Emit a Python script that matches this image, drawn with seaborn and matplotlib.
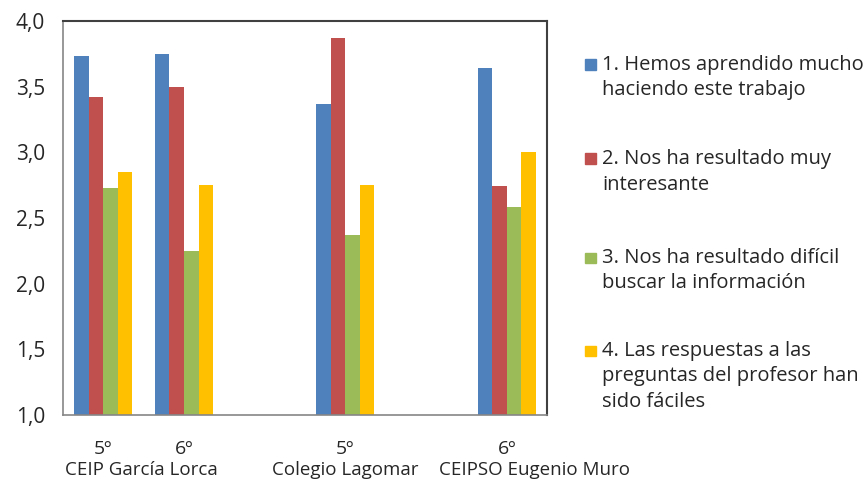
import matplotlib
matplotlib.use("Agg")
import matplotlib.pyplot as plt
import matplotlib.patches as mpatches
import seaborn as sns
import pandas as pd

# categories (six slots on the axis, two of them empty)
slots = ["c0", "c1", "c2", "c3", "c4", "c5"]
slot_labels = ["5º", "6º", "", "5º", "", "6º"]
schools = ["CEIP García Lorca", "Colegio Lagomar", "CEIPSO Eugenio Muro"]
school_pos = [0.47, 3.0, 5.35]

series = ["1. Hemos aprendido mucho haciendo este trabajo",
          "2. Nos ha resultado muy interesante",
          "3. Nos ha resultado difícil buscar la información",
          "4. Las respuestas a las preguntas del profesor han sido fáciles"]
legend_lines = [["1. Hemos aprendido mucho", "haciendo este trabajo"],
                ["2. Nos ha resultado muy", "interesante"],
                ["3. Nos ha resultado difícil", "buscar la información"],
                ["4. Las respuestas a las", "preguntas del profesor han", "sido fáciles"]]

filled = ["c0", "c1", "c3", "c5"]
s1 = [3.73, 3.75, 3.37, 3.64]
s2 = [3.42, 3.50, 3.87, 2.74]
s3 = [2.73, 2.25, 2.37, 2.58]
s4 = [2.85, 2.75, 2.75, 3.00]

colors = ["#4F81BD", "#C0504D", "#9BBB59", "#FFC000"]

rows = []
for name, vals in zip(series, [s1, s2, s3, s4]):
    for slot, v in zip(filled, vals):
        rows.append({"slot": slot, "serie": name, "valor": v})
df = pd.DataFrame(rows)

sns.set_style("white")
plt.rcParams["font.family"] = ["Open Sans", "DejaVu Sans"]

fig = plt.figure(figsize=(8.66, 4.79), dpi=100)
ax = fig.add_axes([63 / 866, 1 - 415 / 479, (547 - 63) / 866, (415 - 21) / 479])

sns.barplot(data=df, x="slot", y="valor", hue="serie", order=slots,
            hue_order=series, palette=colors, width=0.72, saturation=1,
            linewidth=0, legend=False, ax=ax)

ax.set_ylim(1.0, 4.0)
ax.set_xlim(-0.5, 5.5)
yt = [1.0, 1.5, 2.0, 2.5, 3.0, 3.5, 4.0]
ax.set_yticks(yt)
ax.set_yticklabels([f"{v:.1f}".replace(".", ",") for v in yt], fontsize=15)
ax.set_xticks(range(len(slots)))
ax.set_xticklabels(slot_labels, fontsize=14)
ax.set_xticks([i - 0.5 for i in range(len(slots) + 1)], minor=True)
ax.tick_params(axis="x", which="major", length=0, pad=18)
ax.tick_params(axis="x", which="minor", length=7, color="#868686", width=1)
ax.tick_params(axis="y", length=7, color="#868686", width=1, pad=6)
ax.set_xlabel("")
ax.set_ylabel("")

for side in ["left", "bottom"]:
    ax.spines[side].set_color("#868686")
    ax.spines[side].set_linewidth(1.2)
for side in ["top", "right"]:
    ax.spines[side].set_color("#404040")
    ax.spines[side].set_linewidth(1.5)

for name, xp in zip(schools, school_pos):
    ax.text(xp, -0.139, name, transform=ax.get_xaxis_transform(),
            ha="center", va="center", fontsize=13.5)

# legend drawn by hand so the square sits on the first line
entry_y = [65, 159, 258, 351]
line_step = 25.5
for lines, col, ey in zip(legend_lines, colors, entry_y):
    fig.patches.append(mpatches.Rectangle((585 / 866, 1 - (ey + 5) / 479), 10.5 / 866, 10.5 / 479,
                                          transform=fig.transFigure, color=col))
    for k, ln in enumerate(lines):
        fig.text(602 / 866, 1 - (ey + k * line_step) / 479, ln, ha="left", va="center", fontsize=14.5)

fig.savefig("out.png", dpi=100)
